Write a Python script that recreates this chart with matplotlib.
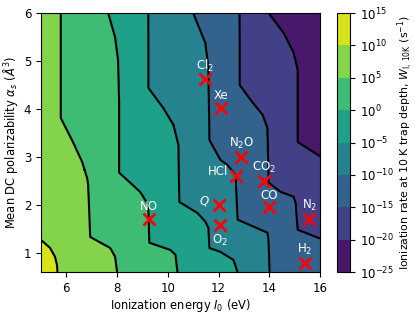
import numpy as np
import matplotlib
matplotlib.use("Agg")
import matplotlib.pyplot as plt

# ---- data -------------------------------------------------------------
# contour levels (log10 of ionization rate, s^-1)
levels = [-25, -20, -15, -10, -5, 0, 5, 10, 15]

# contour positions: (alpha_s [A^3], I0 [eV]) knots for each level
c10_alpha = [6.0, 1.6, 1.27, 1.10, 0.92, 0.75, 0.6]
c10_I0 = [3.0, 4.3, 5.0, 5.36, 5.55, 5.63, 5.65]

c5_alpha = [6.0, 3.81, 3.31, 2.90, 2.56, 2.42, 1.33, 1.10, 0.92, 0.6]
c5_I0 = [5.78, 5.78, 6.26, 6.62, 6.82, 6.86, 6.94, 7.73, 7.92, 8.0]

c0_alpha = [6.0, 5.5, 5.02, 4.19, 2.67, 2.46, 2.27, 2.0, 1.21, 1.06, 0.96, 0.6]
c0_I0 = [7.65, 7.92, 8.04, 8.08, 8.08, 8.52, 8.91, 9.23, 9.27, 10.1, 10.3, 10.38]

cm5_alpha = [6.0, 4.44, 4.19, 4.02, 3.67, 3.25, 2.06, 1.83, 1.65, 1.52, 1.1, 1.02, 0.85, 0.6]
cm5_I0 = [9.23, 9.23, 9.58, 9.82, 10.22, 10.42, 10.45, 11.17, 11.48, 11.6, 11.64, 12.07, 12.59, 12.75]

cm10_alpha = [6.0, 5.375, 4.875, 3.35, 2.94, 2.83, 2.625, 1.69, 1.42, 1.27, 0.6]
cm10_I0 = [11.0, 11.48, 11.6, 11.64, 12.07, 12.35, 12.67, 12.75, 13.93, 13.97, 14.01]

cm15_alpha = [6.0, 4.5, 4.19, 3.875, 3.6, 2.46, 2.27, 2.17, 2.04, 1.48, 1.31, 1.1, 0.6]
cm15_I0 = [12.83, 12.83, 13.26, 13.74, 13.93, 13.97, 14.45, 14.96, 15.04, 15.12, 15.95, 16.6, 16.7]

cm20_alpha = [6.0, 5.58, 5.17, 4.81, 3.31, 2.98, 2.9, 1.5, 0.6]
cm20_I0 = [13.97, 14.57, 14.96, 15.12, 15.12, 16.1, 16.3, 17.0, 18.0]

# molecules
mol_names = [r"Cl$_2$", "Xe", r"N$_2$O", "HCl", r"CO$_2$", "CO", r"N$_2$",
             r"H$_2$", r"O$_2$", r"$Q$", "NO"]
mol_I0 = [11.48, 12.1, 12.89, 12.7, 13.78, 14.0, 15.58, 15.4, 12.07, 12.0, 9.25]
mol_alpha = [4.62, 4.02, 3.0, 2.6, 2.5, 1.95, 1.71, 0.79, 1.57, 2.0, 1.71]
mol_pos = ["above", "above", "above", "left", "above", "above", "above",
           "above", "below", "left", "above"]

cbar_ticks = [-25, -20, -15, -10, -5, 0, 5, 10, 15]

# ---- build field from contour positions --------------------------------
I0_grid = np.linspace(5, 16, 551)
a_grid = np.linspace(0.6, 6, 541)

contours = {
    10: (c10_alpha, c10_I0),
    5: (c5_alpha, c5_I0),
    0: (c0_alpha, c0_I0),
    -5: (cm5_alpha, cm5_I0),
    -10: (cm10_alpha, cm10_I0),
    -15: (cm15_alpha, cm15_I0),
    -20: (cm20_alpha, cm20_I0),
}
pos = {}
for lev, (aa, ii) in contours.items():
    pos[lev] = np.interp(a_grid, np.array(aa)[::-1], np.array(ii)[::-1])
pos[15] = pos[10] - 3.0
pos[-25] = pos[-20] + 3.0

order = [15, 10, 5, 0, -5, -10, -15, -20, -25]
Z = np.empty((a_grid.size, I0_grid.size))
for r in range(a_grid.size):
    xp = np.array([pos[l][r] for l in order])
    Z[r] = np.interp(I0_grid, xp, np.array(order, dtype=float))

# ---- plot ---------------------------------------------------------------
W, H = 415, 315
fig = plt.figure(figsize=(W / 100, H / 100), dpi=100)
ax = fig.add_axes([41 / W, (H - 272) / H, 279 / W, 259 / H])
cax = fig.add_axes([337 / W, (H - 272) / H, 13 / W, 259 / H])

cf = ax.contourf(I0_grid, a_grid, Z, levels=levels, cmap="viridis")
ax.contour(I0_grid, a_grid, Z, levels=levels[1:-1], colors="k",
           linewidths=1.5, linestyles="solid")

ax.plot(mol_I0, mol_alpha, "x", color="red", ms=9, mew=2, ls="none")
for name, x, y, p in zip(mol_names, mol_I0, mol_alpha, mol_pos):
    if p == "above":
        ax.annotate(name, (x, y), xytext=(0, 4), textcoords="offset points",
                    ha="center", va="bottom", color="white", fontsize=8.5)
    elif p == "below":
        ax.annotate(name, (x, y), xytext=(0, -5), textcoords="offset points",
                    ha="center", va="top", color="white", fontsize=8.5)
    else:
        ax.annotate(name, (x, y), xytext=(-6, 3), textcoords="offset points",
                    ha="right", va="center", color="white", fontsize=8.5)

ax.set_xlim(5, 16)
ax.set_ylim(0.6, 6)
ax.set_xticks([6, 8, 10, 12, 14, 16])
ax.set_yticks([1, 2, 3, 4, 5, 6])
ax.set_xlabel(r"Ionization energy $I_0$ (eV)", fontsize=8.3, labelpad=2)
ax.set_ylabel(r"Mean DC polarizability $\alpha_s$ ($\AA^3$)", fontsize=8.3,
              labelpad=3)
ax.tick_params(labelsize=8.5)

cb = fig.colorbar(cf, cax=cax, ticks=cbar_ticks)
cb.ax.set_yticklabels([f"$10^{{{t}}}$" for t in cbar_ticks])
cb.ax.tick_params(labelsize=8.5)
cb.set_label(r"Ionization rate at 10 K trap depth, $W_{\mathrm{I,\,10K}}$ (s$^{-1}$)",
             fontsize=7.9, labelpad=1)

fig.savefig("out.png", dpi=100)
